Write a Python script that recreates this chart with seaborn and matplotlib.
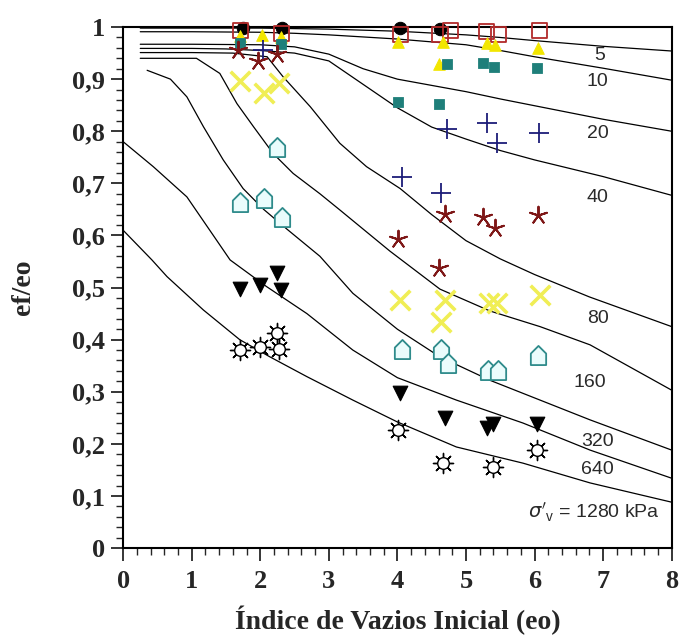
import numpy as np
import pandas as pd
import matplotlib
matplotlib.use("Agg")
import matplotlib.pyplot as plt
from matplotlib.path import Path
from matplotlib.ticker import MultipleLocator, FuncFormatter
import seaborn as sns

# ---- iso-stress curves: ef/eo versus initial void ratio eo -------------------
stress_labels = ["5", "10", "20", "40", "80", "160", "320", "640"]

c5_x = [0.25, 1.0, 2.0, 3.0, 4.0, 5.0, 5.5, 6.0, 7.0, 8.0]
c5_y = [0.998, 0.998, 0.998, 0.996, 0.992, 0.985, 0.980, 0.974, 0.963, 0.954]

c10_x = [0.25, 1.0, 2.0, 2.5, 3.0, 4.0, 5.0, 5.5, 6.0, 7.0, 8.0]
c10_y = [0.991, 0.991, 0.990, 0.988, 0.985, 0.977, 0.966, 0.955, 0.943, 0.921, 0.898]

c20_x = [0.25, 1.0, 2.0, 2.5, 3.0, 3.5, 4.0, 4.5, 5.0, 5.5, 6.0, 7.0, 8.0]
c20_y = [0.967, 0.967, 0.966, 0.962, 0.948, 0.920, 0.900, 0.888, 0.876, 0.862, 0.849, 0.823, 0.800]

c40_x = [0.25, 1.0, 1.5, 2.0, 2.5, 3.0, 3.5, 4.0, 4.5, 5.0, 5.5, 6.0, 7.0, 8.0]
c40_y = [0.959, 0.959, 0.958, 0.955, 0.950, 0.935, 0.890, 0.845, 0.808, 0.785, 0.763, 0.745, 0.713, 0.677]

c80_x = [0.25, 1.0, 1.6, 2.1, 2.33, 2.73, 3.16, 3.55, 4.04, 4.5, 5.0, 5.5, 6.0, 6.8, 8.0]
c80_y = [0.951, 0.951, 0.950, 0.943, 0.905, 0.847, 0.777, 0.732, 0.690, 0.640, 0.590, 0.555, 0.525, 0.482, 0.425]

c160_x = [0.25, 1.07, 1.41, 1.66, 1.9, 2.19, 2.48, 2.87, 3.16, 3.89, 4.62, 5.35, 6.08, 6.81, 8.0]
c160_y = [0.940, 0.940, 0.911, 0.853, 0.809, 0.757, 0.719, 0.680, 0.649, 0.570, 0.497, 0.455, 0.425, 0.390, 0.303]

c320_x = [0.35, 0.69, 0.93, 1.17, 1.46, 1.75, 2.05, 2.39, 2.87, 3.35, 4.0, 4.62, 5.35, 6.08, 6.81, 8.0]
c320_y = [0.917, 0.900, 0.866, 0.809, 0.745, 0.690, 0.650, 0.612, 0.560, 0.489, 0.420, 0.367, 0.322, 0.284, 0.246, 0.188]

c640_x = [0.0, 0.44, 0.93, 1.3, 1.56, 2.09, 2.68, 3.35, 4.0, 4.86, 5.83, 6.81, 8.0]
c640_y = [0.780, 0.732, 0.674, 0.603, 0.553, 0.502, 0.450, 0.380, 0.327, 0.284, 0.240, 0.188, 0.134]

c1280_x = [0.0, 0.42, 0.64, 1.17, 1.7, 2.14, 2.68, 3.35, 4.0, 4.86, 5.83, 6.81, 8.0]
c1280_y = [0.610, 0.553, 0.521, 0.457, 0.400, 0.367, 0.329, 0.284, 0.242, 0.194, 0.163, 0.125, 0.088]

# ---- measured points --------------------------------------------------------
circ_x = [1.75, 2.31, 4.04, 4.62]
circ_y = [0.998, 0.998, 0.998, 0.996]

osq_x = [1.71, 2.31, 4.05, 4.62, 4.77, 5.30, 5.47, 6.07]
osq_y = [0.994, 0.988, 0.986, 0.985, 0.994, 0.991, 0.985, 0.994]

tri_x = [1.71, 2.02, 2.30, 4.01, 4.60, 4.66, 5.30, 5.42, 6.05]
tri_y = [0.983, 0.985, 0.980, 0.972, 0.930, 0.972, 0.969, 0.965, 0.959]

fsq_x = [1.71, 2.30, 4.01, 4.60, 4.72, 5.25, 5.41, 6.03]
fsq_y = [0.970, 0.968, 0.857, 0.853, 0.930, 0.931, 0.924, 0.921]

plus_x = [2.04, 4.06, 4.64, 4.72, 5.30, 5.45, 6.07]
plus_y = [0.956, 0.713, 0.682, 0.805, 0.815, 0.777, 0.796]

star_x = [1.68, 1.97, 2.24, 4.01, 4.60, 4.69, 5.25, 5.42, 6.05]
star_y = [0.956, 0.935, 0.948, 0.594, 0.537, 0.642, 0.636, 0.614, 0.639]

cross_x = [1.71, 2.05, 2.27, 4.04, 4.64, 4.69, 5.33, 5.45, 6.08]
cross_y = [0.896, 0.873, 0.893, 0.476, 0.434, 0.476, 0.470, 0.470, 0.486]

house_x = [1.71, 2.05, 2.24, 2.31, 4.06, 4.64, 4.74, 5.32, 5.47, 6.05]
house_y = [0.665, 0.671, 0.770, 0.636, 0.383, 0.383, 0.355, 0.342, 0.342, 0.370]

dtri_x = [1.71, 2.00, 2.24, 2.30, 4.04, 4.69, 5.30, 5.40, 6.03]
dtri_y = [0.498, 0.505, 0.527, 0.495, 0.297, 0.249, 0.230, 0.239, 0.239]

sun_x = [1.71, 2.00, 2.24, 2.28, 4.01, 4.67, 5.39, 6.03]
sun_y = [0.380, 0.386, 0.412, 0.383, 0.226, 0.163, 0.156, 0.188]

# ---- label placement for the stress values ----------------------------------
label_x = [6.95, 6.92, 6.92, 6.92, 6.92, 6.81, 6.92, 6.92]
label_y = [0.945, 0.896, 0.795, 0.672, 0.441, 0.317, 0.205, 0.150]

curves = [(c5_x, c5_y), (c10_x, c10_y), (c20_x, c20_y), (c40_x, c40_y),
          (c80_x, c80_y), (c160_x, c160_y), (c320_x, c320_y),
          (c640_x, c640_y), (c1280_x, c1280_y)]

sns.set_theme(style="ticks")
plt.rcParams["font.family"] = ["DejaVu Sans"]

fig = plt.figure(figsize=(6.84, 6.44), dpi=100)
ax = fig.add_axes([0.180, 0.149, 0.802, 0.809])

for cx, cy in curves:
    sns.lineplot(x=cx, y=cy, ax=ax, color="black", lw=0.9,
                 sort=False, estimator=None)

# house-shaped marker (square body with pitched roof)
house = Path([(-0.8, -1.0), (0.8, -1.0), (0.8, 0.2), (0.0, 1.0),
              (-0.8, 0.2), (-0.8, -1.0)],
             [Path.MOVETO, Path.LINETO, Path.LINETO, Path.LINETO,
              Path.LINETO, Path.CLOSEPOLY])

common = dict(ax=ax, legend=False, clip_on=False, zorder=3)
sns.scatterplot(x=circ_x, y=circ_y, marker="o", s=80, color="black",
                edgecolor="black", **common)
sns.scatterplot(x=osq_x, y=osq_y, marker="s", s=120, facecolor="none",
                edgecolor="#b22a2a", linewidth=1.3, **common)
sns.scatterplot(x=tri_x, y=tri_y, marker="^", s=70, color="#f2e600",
                edgecolor="#f2e600", **common)
sns.scatterplot(x=fsq_x, y=fsq_y, marker="s", s=55, color="#1f7f7a",
                edgecolor="#1f7f7a", **common)
sns.scatterplot(x=plus_x, y=plus_y, marker="+", s=200, color="#1c1c78",
                linewidth=1.3, **common)
sns.scatterplot(x=star_x, y=star_y, marker=(5, 2, 0), s=160, color="#7e1717",
                linewidth=1.4, **common)
sns.scatterplot(x=cross_x, y=cross_y, marker="x", s=200, color="#f0ee55",
                linewidth=2.6, **common)
sns.scatterplot(x=house_x, y=house_y, marker=house, s=190, facecolor="#eafcfc",
                edgecolor="#2e8b8b", linewidth=1.3, **common)
sns.scatterplot(x=dtri_x, y=dtri_y, marker="v", s=110, color="black",
                edgecolor="black", **common)
sns.scatterplot(x=sun_x, y=sun_y, marker=(8, 2, 0), s=210, color="black",
                linewidth=1.0, **common)
sns.scatterplot(x=sun_x, y=sun_y, marker="o", s=70, facecolor="white",
                edgecolor="black", linewidth=1.0, **common)

for lab, lx, ly in zip(stress_labels, label_x, label_y):
    ax.text(lx, ly, lab, ha="center", va="center", fontsize=14,
            color="#2a2a2a", family="Liberation Sans")
ax.text(6.87, 0.069, r"$\sigma'_{\mathregular{v}}$ = 1280 kPa", ha="center",
        va="center", fontsize=14, color="#2a2a2a", family="Liberation Sans")

ax.set_xlim(0, 8)
ax.set_ylim(0, 1)
ax.xaxis.set_major_locator(MultipleLocator(1))
ax.xaxis.set_minor_locator(MultipleLocator(0.2))
ax.yaxis.set_major_locator(MultipleLocator(0.1))
ax.yaxis.set_minor_locator(MultipleLocator(0.02))


def comma_fmt(v, _pos):
    if abs(v) < 1e-9:
        return "0"
    if abs(v - 1) < 1e-9:
        return "1"
    return f"{v:.1f}".replace(".", ",")


ax.yaxis.set_major_formatter(FuncFormatter(comma_fmt))
ax.tick_params(which="major", direction="out", length=9, width=1.3,
               labelsize=19, pad=4)
ax.tick_params(axis="x", which="major", pad=7)
ax.tick_params(which="minor", direction="out", length=5, width=1.0)
for lab in ax.get_xticklabels() + ax.get_yticklabels():
    lab.set_family("Liberation Serif")
    lab.set_fontweight("bold")
for sp in ax.spines.values():
    sp.set_linewidth(1.5)
    sp.set_color("black")

ax.set_xlabel("Índice de Vazios Inicial (eo)", fontsize=20, fontweight="bold",
              family="Liberation Serif", labelpad=9)
ax.set_ylabel("ef/eo", fontsize=20, fontweight="bold",
              family="Liberation Serif", labelpad=26)

fig.savefig("out.png", dpi=100, facecolor="white")
